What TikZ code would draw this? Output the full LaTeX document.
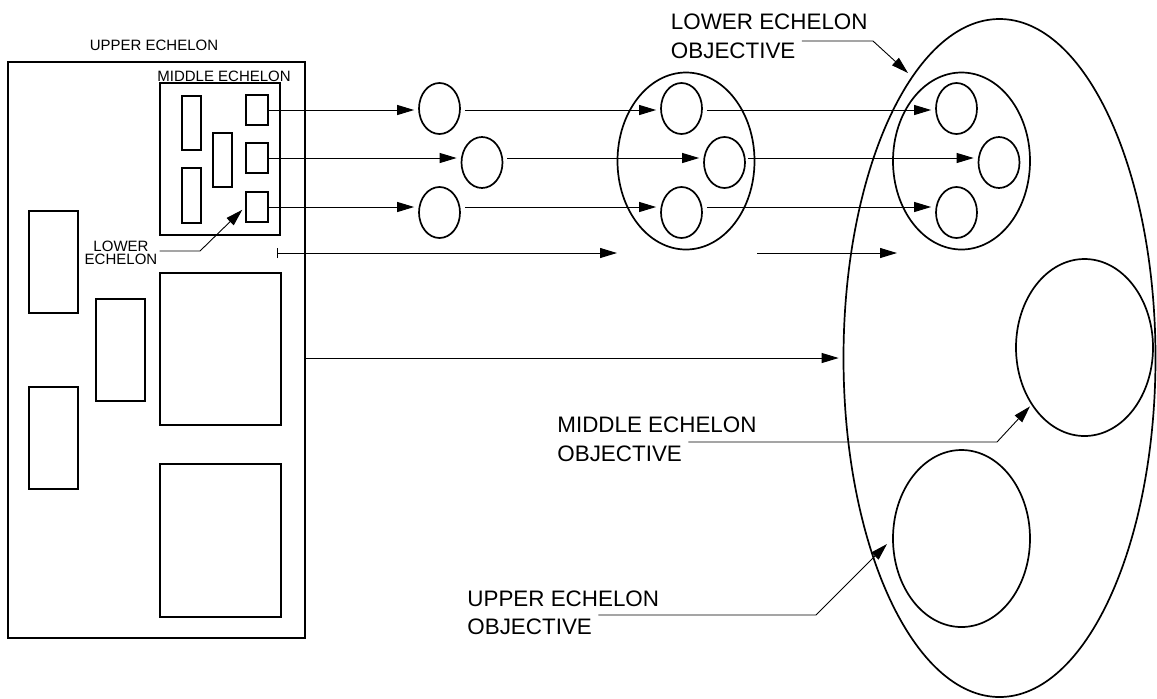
\documentclass[tikz,border=0pt]{standalone}
\usepackage{fontspec}
\setmainfont{Liberation Sans}
\usepackage{xcolor}
\usepackage{tikz}
\usetikzlibrary{arrows.meta,positioning,shapes.geometric,calc}
\definecolor{echink}{HTML}{000000}

\begin{document}
\begin{tikzpicture}[
  x=0.5pt, y=-0.5pt,
  cell/.style 2 args={rectangle,draw=echink,line width=0.85pt,inner sep=0pt,minimum width=#1,minimum height=#2},
  member/.style={ellipse,draw=echink,line width=0.85pt,inner sep=0pt,minimum width=20.5pt,minimum height=25.5pt},
  group/.style={ellipse,draw=echink,line width=0.85pt,inner sep=0pt,minimum width=68.5pt,minimum height=88.5pt},
  bigtext/.style={inner sep=0pt,font=\fontsize{11.2pt}{13pt}\selectfont,text=echink},
  smalltext/.style={inner sep=0pt,font=\fontsize{7.5pt}{9pt}\selectfont,text=echink},
  flow/.style={-{Triangle[length=8.5pt,width=5pt]},line width=0.5pt,draw=echink,shorten >=2pt},
  leader/.style={-{Triangle[length=8.5pt,width=5pt]},line width=0.45pt,draw=echink}
]
\useasboundingbox (0,0) rectangle (1157,698);

% upper echelon and its units
\node[cell={148.5pt}{288pt}] (upper) at (156.5,350) {};
\node[smalltext,anchor=base] (upperlbl) at (154,50) {UPPER ECHELON};
\node[cell={60pt}{76pt}] (midbox) at (220,159) {};
\node[smalltext,anchor=base west] (midlbl) at (157,81) {MIDDLE ECHELON};
\node[cell={9.5pt}{27pt}] (t1) at (191.5,123) {};
\node[cell={9.5pt}{27.5pt}] (t2) at (191.5,195.5) {};
\node[cell={9.5pt}{27pt}] (t3) at (222.5,160) {};
\node[cell={11pt}{15pt}] (s1) at (257,110) {};
\node[cell={11pt}{15pt}] (s2) at (257,158) {};
\node[cell={11pt}{15pt}] (s3) at (257,207) {};
\node[cell={24.5pt}{51pt}] (l1) at (53.5,262) {};
\node[cell={24.5pt}{51pt}] (l2) at (53.5,438) {};
\node[cell={24.5pt}{51pt}] (l3) at (120.5,350) {};
\node[cell={60.5pt}{76pt}] (b1) at (220.5,349) {};
\node[cell={60.5pt}{76.5pt}] (b2) at (220.5,540.5) {};
\node[smalltext,anchor=base] (lowlbl1) at (121,251) {LOWER};
\node[smalltext,anchor=base] (lowlbl2) at (121,264) {ECHELON};

% lower echelon objectives
\node[member] (e1) at (439.5,108.5) {};
\node[member] (e2) at (482,162.5) {};
\node[member] (e3) at (439.5,212.5) {};

% middle echelon objectives
\node[group] (mg) at (686,161) {};
\node[member] (m1) at (681.5,108.5) {};
\node[member] (m2) at (724.5,162.5) {};
\node[member] (m3) at (681.5,212.5) {};

% upper echelon objective
\node[ellipse,draw=echink,line width=0.85pt,inner sep=0pt,minimum width=156pt,minimum height=339pt] (big) at (999.5,358) {};
\node[group] (rg) at (961.5,161) {};
\node[member] (r1) at (956.5,108.5) {};
\node[member] (r2) at (999,162.5) {};
\node[member] (r3) at (956.5,212.5) {};
\node[group] (mobj) at (1084.5,347.5) {};
\node[group] (uobj) at (961.5,538.5) {};

% labels
\node[bigtext,anchor=base east] (low1) at (868,29) {LOWER ECHELON};
\node[bigtext,anchor=base west] (low2) at ($(low1.base west)+(0,29)$) {OBJECTIVE};
\node[bigtext,anchor=base west] (mid1) at (557,432) {MIDDLE ECHELON};
\node[bigtext,anchor=base west] (mid2) at (557,461) {OBJECTIVE};
\node[bigtext,anchor=base west] (upp1) at (467,606) {UPPER ECHELON};
\node[bigtext,anchor=base west] (upp2) at (467,634) {OBJECTIVE};

% flows
\draw[flow] (s1.east) -- (s1.east -| e1.west);
\draw[flow,shorten <=2pt] (e1.east |- s1.east) -- (m1.west |- s1.east);
\draw[flow,shorten <=2pt] (m1.east |- s1.east) -- (r1.west |- s1.east);
\draw[flow] (s2.east) -- (s2.east -| e2.west);
\draw[flow,shorten <=2pt] (e2.east |- s2.east) -- (m2.west |- s2.east);
\draw[flow,shorten <=1pt] (m2.east |- s2.east) -- (r2.west |- s2.east);
\draw[flow] (s3.east) -- (s3.east -| e3.west);
\draw[flow,shorten <=2pt] (e3.east |- s3.east) -- (m3.west |- s3.east);
\draw[flow,shorten <=2pt] (m3.east |- s3.east) -- (r3.west |- s3.east);

\coordinate (gapstart) at (277,253);
\coordinate (gapmid) at (617,253);
\coordinate (gapresume) at (757,253);
\coordinate (gapend) at (897,253);
\draw[flow,{Bar[width=5pt]}-{Triangle[length=8.5pt,width=5pt]},shorten >=0pt] (gapstart) -- (gapmid);
\draw[flow,shorten >=0pt] (gapresume) -- (gapend);
\draw[flow] (upper.east |- big.west) -- (big.west);

% leaders
\coordinate (lowbend) at (200,251);
\draw[leader,shorten <=1pt,shorten >=2pt] (lowlbl2.east |- lowbend) -- (lowbend) -- (s3.west);
\coordinate (lobjbend) at (873,41);
\coordinate (lobjtip) at (908,73);
\draw[leader,shorten <=3pt] (low2.east |- lobjbend) -- (lobjbend) -- (lobjtip);
\coordinate (mobjbend) at (997,442);
\draw[leader,shorten <=3pt,shorten >=1pt] (mid2.east |- mobjbend) -- (mobjbend) -- (mobj);
\coordinate (uobjbend) at (816,615);
\coordinate (uobjtip) at (887,544);
\draw[leader,shorten <=3pt] (upp2.east |- uobjbend) -- (uobjbend) -- (uobjtip);
\end{tikzpicture}
\end{document}
